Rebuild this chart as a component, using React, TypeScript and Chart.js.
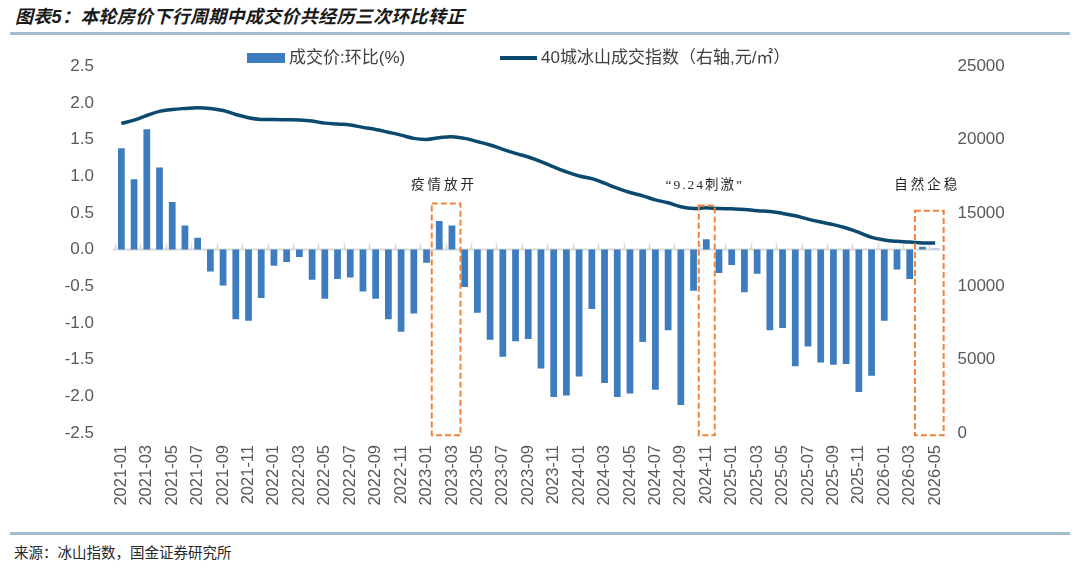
import React, { useEffect, useRef } from "react";
import { Chart, registerables } from "chart.js";

Chart.register(...registerables);

const months: string[] = [
  "2021-01", "2021-02", "2021-03", "2021-04", "2021-05", "2021-06", "2021-07", "2021-08", "2021-09", "2021-10", "2021-11", "2021-12",
  "2022-01", "2022-02", "2022-03", "2022-04", "2022-05", "2022-06", "2022-07", "2022-08", "2022-09", "2022-10", "2022-11", "2022-12",
  "2023-01", "2023-02", "2023-03", "2023-04", "2023-05", "2023-06", "2023-07", "2023-08", "2023-09", "2023-10", "2023-11", "2023-12",
  "2024-01", "2024-02", "2024-03", "2024-04", "2024-05", "2024-06", "2024-07", "2024-08", "2024-09", "2024-10", "2024-11", "2024-12",
  "2025-01", "2025-02", "2025-03", "2025-04", "2025-05", "2025-06", "2025-07", "2025-08", "2025-09", "2025-10", "2025-11", "2025-12",
  "2026-01", "2026-02", "2026-03", "2026-04", "2026-05",
];

// 成交价:环比(%)
const priceMoM: number[] = [
  1.38, 0.96, 1.64, 1.12, 0.65, 0.33, 0.16, -0.30, -0.49, -0.95, -0.97, -0.66,
  -0.22, -0.17, -0.10, -0.41, -0.67, -0.40, -0.38, -0.57, -0.67, -0.95, -1.12, -0.87,
  -0.18, 0.39, 0.33, -0.51, -0.86, -1.23, -1.46, -1.25, -1.22, -1.62, -2.01, -1.99,
  -1.73, -0.81, -1.82, -2.01, -1.96, -1.26, -1.91, -1.10, -2.12, -0.56, 0.14, -0.32,
  -0.21, -0.58, -0.33, -1.10, -1.07, -1.59, -1.32, -1.54, -1.57, -1.56, -1.94, -1.72,
  -0.97, -0.27, -0.40, 0.04, 0.02,
];

// 40城冰山成交指数（右轴,元/㎡）
const iceIndex: number[] = [
  21100, 21330, 21640, 21920, 22050, 22120, 22165, 22120, 21980, 21710, 21490, 21370,
  21370, 21350, 21330, 21260, 21120, 21055, 20990, 20830, 20690, 20500, 20300, 20080,
  20010, 20130, 20195, 20080, 19860, 19630, 19335, 19060, 18810, 18500, 18135, 17800,
  17520, 17340, 17025, 16685, 16390, 16165, 15890, 15690, 15420, 15300, 15350, 15300,
  15280, 15240, 15150, 15100, 14965, 14805, 14580, 14380, 14200, 13970, 13675, 13335,
  13155, 13065, 13020, 12950, 12950,
];

const highlightFrom: string[] = ["2023-02", "2024-11", "2026-04"];
const highlightTo: string[] = ["2023-03", "2024-11", "2026-05"];
const highlightTop: number[] = [0.63, 0.6, 0.53];
const highlightText: string[] = ["疫情放开", "“9.24刺激”", "自然企稳"];

const BAR = "#3d7cbf";
const BAR_LIGHT = "#a9c5e6";
const LINE = "#0b4a6e";
const ORANGE = "#f2823a";
const TXT = "#595959";
const FONT = "'Liberation Sans', 'Noto Sans CJK SC', sans-serif";

const overlayPlugin = {
  id: "overlay",
  beforeDatasetsDraw(chart: any) {
    const { ctx, chartArea, scales } = chart;
    const x = scales.x;
    const y = scales.y;
    const y0 = y.getPixelForValue(0);
    const step = (chartArea.right - chartArea.left) / months.length;
    ctx.save();
    ctx.strokeStyle = "#d9d9d9";
    ctx.lineWidth = 2;
    ctx.beginPath();
    ctx.moveTo(chartArea.left - 2, y0);
    ctx.lineTo(chartArea.right - 1, y0);
    ctx.stroke();
    ctx.lineWidth = 1.5;
    ctx.beginPath();
    for (let i = 0; i < months.length; i += 2) {
      const px = Math.round(x.getPixelForValue(i) - step / 2) + 0.5;
      ctx.moveTo(px, y0);
      ctx.lineTo(px, y0 - 6);
    }
    ctx.stroke();
    ctx.restore();
  },
  afterDatasetsDraw(chart: any) {
    const { ctx, scales } = chart;
    const x = scales.x;
    const y = scales.y;
    ctx.save();
    for (let k = 0; k < highlightText.length; k++) {
      const i0 = months.indexOf(highlightFrom[k]);
      const i1 = months.indexOf(highlightTo[k]);
      const left = x.getPixelForValue(i0) - 7.5;
      const right = x.getPixelForValue(i1) + 8.5;
      const top = y.getPixelForValue(highlightTop[k]);
      const bottom = y.getPixelForValue(-2.53);
      ctx.strokeStyle = ORANGE;
      ctx.lineWidth = 2;
      ctx.setLineDash([6, 3]);
      ctx.strokeRect(left, top, right - left, bottom - top);
      ctx.setLineDash([]);
      ctx.fillStyle = "#262626";
      ctx.font = "13.5px 'Liberation Serif', 'Noto Sans CJK SC', serif";
      (ctx as any).letterSpacing = k === 1 ? "2px" : "3px";
      ctx.textAlign = "center";
      ctx.textBaseline = "middle";
      ctx.fillText(highlightText[k], (left + right) / 2 - 2, y.getPixelForValue(0.87));
    }
    ctx.restore();
  },
};

export default function App() {
  const ref = useRef<HTMLCanvasElement | null>(null);

  useEffect(() => {
    if (!ref.current) return;
    const chart = new Chart(ref.current, {
      type: "bar",
      data: {
        labels: months,
        datasets: [
          {
            type: "line",
            label: "40城冰山成交指数（右轴,元/㎡）",
            data: iceIndex,
            yAxisID: "y1",
            borderColor: LINE,
            borderWidth: 3.5,
            pointRadius: 0,
            tension: 0.4,
            fill: false,
            order: 0,
          } as any,
          {
            type: "bar",
            label: "成交价:环比(%)",
            data: priceMoM,
            yAxisID: "y",
            backgroundColor: (c: any) => (c.dataIndex === months.length - 1 ? BAR_LIGHT : BAR),
            categoryPercentage: 1,
            barPercentage: 0.53,
            order: 1,
          } as any,
        ],
      },
      options: {
        responsive: false,
        animation: false,
        devicePixelRatio: 1,
        layout: { padding: { top: 0, left: 0, right: 0, bottom: 0 } },
        plugins: { legend: { display: false }, tooltip: { enabled: false } },
        scales: {
          x: {
            grid: { display: false, drawTicks: false },
            border: { display: false },
            ticks: {
              autoSkip: false,
              maxRotation: 90,
              minRotation: 90,
              padding: 12,
              color: TXT,
              font: { family: FONT, size: 16.5 },
              callback: (_v: any, i: number) => (i % 2 === 0 ? months[i] : ""),
            },
            afterFit: (s: any) => {
              s.height = 97;
            },
          },
          y: {
            position: "left",
            min: -2.5,
            max: 2.5,
            grid: { display: false, drawTicks: false },
            border: { display: false },
            ticks: {
              stepSize: 0.5,
              padding: 21,
              color: TXT,
              font: { family: FONT, size: 17 },
              callback: (v: any) => Number(v).toFixed(1),
            },
            afterFit: (s: any) => {
              s.width = 115;
            },
          },
          y1: {
            position: "right",
            min: 0,
            max: 25000,
            grid: { display: false, drawTicks: false },
            border: { display: false },
            ticks: {
              stepSize: 5000,
              padding: 16,
              color: TXT,
              font: { family: FONT, size: 17 },
              callback: (v: any) => String(v),
            },
            afterFit: (s: any) => {
              s.width = 138.5;
            },
          },
        },
      },
      plugins: [overlayPlugin],
    });
    return () => chart.destroy();
  }, []);

  const abs = (o: React.CSSProperties): React.CSSProperties => ({ position: "absolute", ...o });

  return (
    <div style={abs({ left: 0, top: 0, width: 1080, height: 570, background: "#fff", overflow: "hidden", fontFamily: FONT })}>
      <canvas ref={ref} width={1080} height={495} style={abs({ left: 0, top: 35, width: 1080, height: 495 })} />
      <div
        style={abs({
          left: 15,
          top: 5,
          height: 24,
          lineHeight: "24px",
          fontSize: 18,
          letterSpacing: "0.3px",
          fontWeight: 700,
          fontStyle: "italic",
          color: "#1a1a1a",
          whiteSpace: "nowrap",
        })}
      >
        图表5：本轮房价下行周期中成交价共经历三次环比转正
      </div>
      <div style={abs({ left: 10, top: 32, width: 1060, height: 3, background: "#a3bccb" })} />
      <div style={abs({ left: 247, top: 53, width: 38, height: 10, background: BAR })} />
      <div style={abs({ left: 289, top: 47, height: 22, lineHeight: "22px", fontSize: 17, color: "#404040", whiteSpace: "nowrap" })}>
        成交价:环比(%)
      </div>
      <div style={abs({ left: 500, top: 56, width: 37, height: 4, background: LINE })} />
      <div style={abs({ left: 541, top: 47, height: 22, lineHeight: "22px", fontSize: 17, color: "#404040", whiteSpace: "nowrap" })}>
        40城冰山成交指数（右轴,元/㎡）
      </div>
      <div style={abs({ left: 10, top: 532, width: 1060, height: 3, background: "#a3bccb" })} />
      <div
        style={abs({
          left: 14,
          top: 541,
          height: 22,
          lineHeight: "22px",
          fontSize: 14.5,
          color: "#262626",
          whiteSpace: "nowrap",
          fontFamily: "'Noto Sans CJK SC', sans-serif",
        })}
      >
        来源：冰山指数，国金证券研究所
      </div>
    </div>
  );
}
